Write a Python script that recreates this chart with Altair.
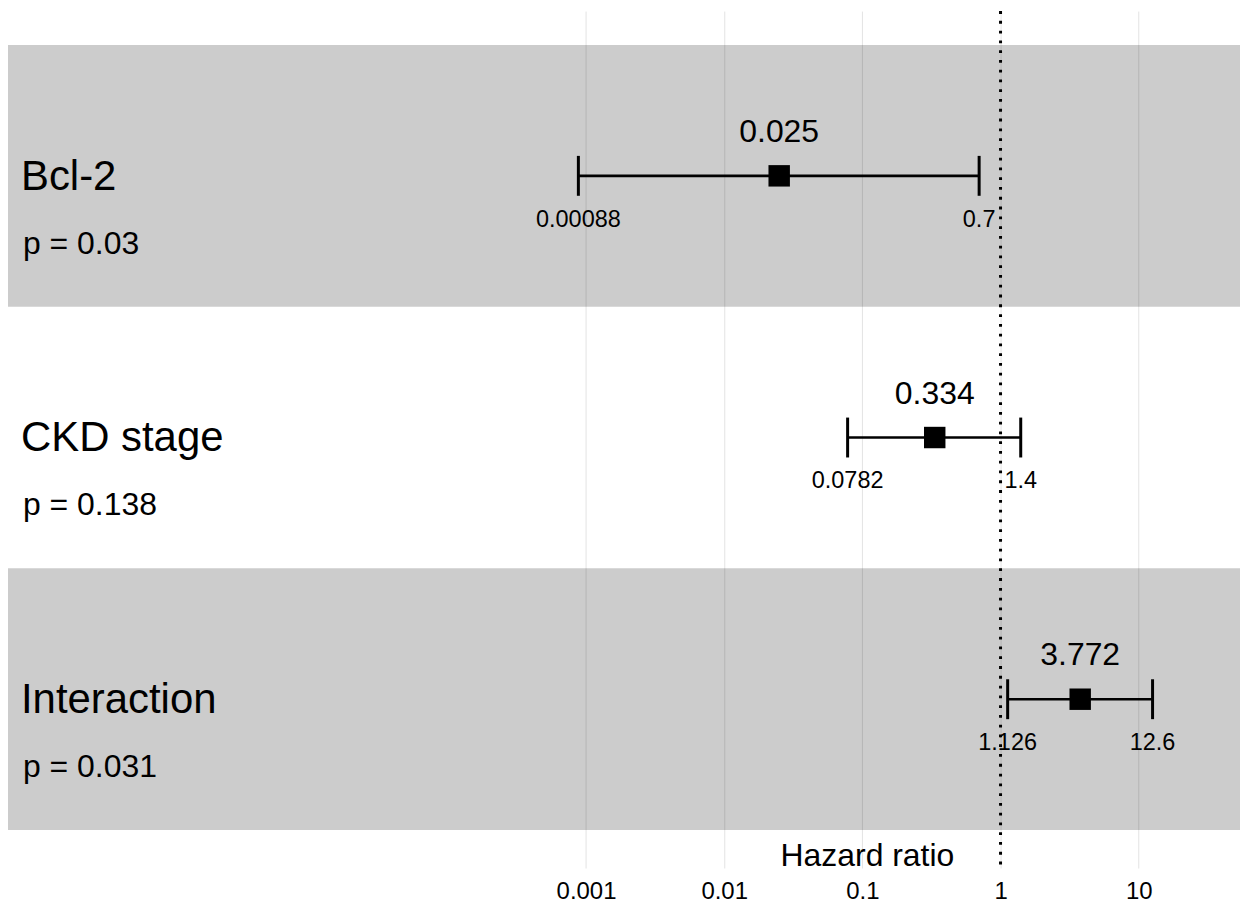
import altair as alt
import pandas as pd

# ---- data ----
labels = ["Bcl-2", "CKD stage", "Interaction"]
p_text = ["p = 0.03", "p = 0.138", "p = 0.031"]
hr = [0.025, 0.334, 3.772]
hr_text = ["0.025", "0.334", "3.772"]
lo = [0.00088, 0.0782, 1.126]
lo_text = ["0.00088", "0.0782", "1.126"]
hi = [0.7, 1.4, 12.6]
hi_text = ["0.7", "1.4", "12.6"]
row = [0, 1, 2]
shaded_rows = [0, 2]
tick_values = [0.001, 0.01, 0.1, 1, 10]
ref_value = [1]

FONT = "Liberation Sans"

df = pd.DataFrame({
    "label": labels, "p": p_text, "hr": hr, "hr_text": hr_text,
    "lo": lo, "lo_text": lo_text, "hi": hi, "hi_text": hi_text, "row": row,
})
df["yc"] = df["row"] + 0.5

bands = pd.DataFrame({"y0": shaded_rows})
bands["y1"] = bands["y0"] + 1

ref = pd.DataFrame({"v": ref_value})

xscale = alt.Scale(type="log", domain=[6.55e-8, 54.1], nice=False)
yscale = alt.Scale(domain=[-0.1296, 3.145], reverse=True, nice=False, zero=False)

xaxis = alt.Axis(
    values=tick_values, format="~g", grid=True, gridColor="#e3e3e3", gridWidth=1,
    ticks=False, domain=False, labelFontSize=24, labelFont=FONT, labelColor="black",
    labelPadding=12, title="Hazard ratio", titleFont=FONT, titleFontSize=32,
    titleFontWeight="normal", titleColor="black", titleX=861, titleY=-13,
    titleAlign="center", titleBaseline="middle",
)


def Y(field):
    return alt.Y(field, scale=yscale, axis=None)


def X(field):
    return alt.X(field, scale=xscale, axis=xaxis)


base = alt.Chart(df)

band_layer = alt.Chart(bands).mark_rect(color="black", opacity=0.2).encode(
    y=Y("y0:Q"),
    y2="y1:Q",
)

ref_layer = alt.Chart(ref).mark_rule(
    color="black", strokeDash=[2.8, 7], strokeWidth=3
).encode(x=X("v:Q"))

ci_line = base.mark_rule(color="black", strokeWidth=2.6).encode(
    x=X("lo:Q"), x2="hi:Q", y=Y("yc:Q"),
)
cap_lo = base.mark_tick(orient="vertical", color="black", size=40, thickness=3, opacity=1).encode(
    x=X("lo:Q"), y=Y("yc:Q"),
)
cap_hi = base.mark_tick(orient="vertical", color="black", size=40, thickness=3, opacity=1).encode(
    x=X("hi:Q"), y=Y("yc:Q"),
)
point = base.mark_square(color="black", size=462, opacity=1).encode(
    x=X("hr:Q"), y=Y("yc:Q"),
)

txt = dict(font=FONT, baseline="middle", color="black")
hr_lab = base.mark_text(fontSize=32, dy=-44, align="center", **txt).encode(
    x=X("hr:Q"), y=Y("yc:Q"), text="hr_text:N",
)
lo_lab = base.mark_text(fontSize=23.5, dy=44, align="center", **txt).encode(
    x=X("lo:Q"), y=Y("yc:Q"), text="lo_text:N",
)
hi_lab = base.mark_text(fontSize=23.5, dy=44, align="center", **txt).encode(
    x=X("hi:Q"), y=Y("yc:Q"), text="hi_text:N",
)
name_lab = base.mark_text(fontSize=42, dy=1, align="left", **txt).encode(
    x=alt.value(13), y=Y("yc:Q"), text="label:N",
)
p_lab = base.mark_text(fontSize=32, dy=68, align="left", **txt).encode(
    x=alt.value(15), y=Y("yc:Q"), text="p:N",
)

chart = alt.layer(
    band_layer, ref_layer, ci_line, cap_lo, cap_hi, point,
    hr_lab, lo_lab, hi_lab, name_lab, p_lab,
).properties(
    width=1235, height=859, padding=0,
).configure(background="white").configure_view(stroke=None)

chart.save("out.html", embed_options={"renderer": "svg", "actions": False})
